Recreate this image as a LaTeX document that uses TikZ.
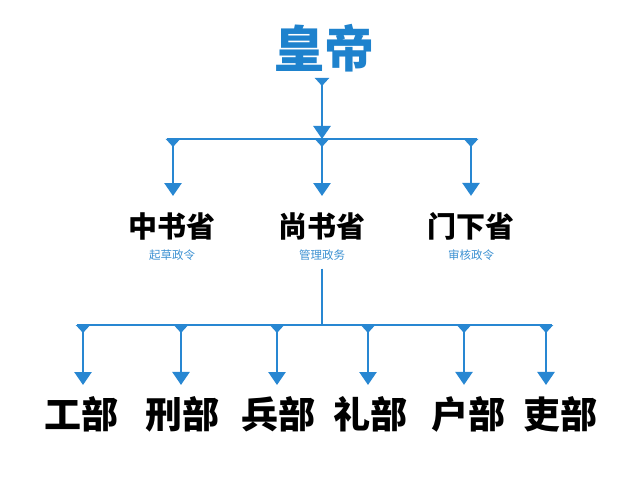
\documentclass[tikz,border=0pt]{standalone}
\usepackage{fontspec}
\newfontfamily\cjk{Noto Sans CJK SC}
\usetikzlibrary{arrows.meta}
\definecolor{lineblue}{RGB}{40,135,210}
\definecolor{titleblue}{RGB}{30,130,205}
\definecolor{subblue}{RGB}{60,145,210}
\begin{document}
\begin{tikzpicture}[x=1pt,y=-1pt,
  conn/.style={draw=lineblue,line width=2.6pt},
  arr/.style={conn,{Triangle[reversed,width=14pt,length=8pt]}-{Triangle[width=17pt,length=13pt]}},
  titletext/.style={font=\cjk\bfseries\fontsize{50}{50}\selectfont,text=titleblue,inner sep=0pt},
  officetext/.style={font=\cjk\bfseries\fontsize{29}{29}\selectfont,text=black,inner sep=0pt},
  subtext/.style={font=\cjk\fontsize{11.5}{11.5}\selectfont,text=subblue,inner sep=0pt},
  depttext/.style={font=\cjk\bfseries\fontsize{37}{37}\selectfont,text=black,inner sep=0pt}]
\fill[white] (0,0) rectangle (640,481);
\useasboundingbox (0,0) rectangle (640,481);

% emperor
\node[titletext] (emp) at (324,48) {皇帝};
\coordinate (e0) at (322,78);
\coordinate (j1) at (322,139);
\coordinate (l1) at (167,139);
\coordinate (r1) at (477,139);
\draw[conn] (l1) -- (r1);
\draw[arr] (e0) -- (j1);

% three departments
\node[officetext] (m1) at (172,226) {中书省};
\node[officetext] (m2) at (322,226) {尚书省};
\node[officetext] (m3) at (471,226) {门下省};
\node[subtext] (s1) at (172,255) {起草政令};
\node[subtext] (s2) at (322,255) {管理政务};
\node[subtext] (s3) at (471,255) {审核政令};

\coordinate (a1) at (173,139);
\coordinate (a2) at (322,139);
\coordinate (a3) at (471,139);
\foreach \a/\m in {a1/m1,a2/m2,a3/m3}
  \draw[arr,shorten >=16pt] (\a) -- (\a |- \m.north);

% six ministries
\coordinate (j2) at (322,325);
\coordinate (l2) at (77,325);
\coordinate (r2) at (552,325);
\draw[conn,shorten <=8pt] (s2.south) -- (j2);
\draw[conn] (l2) -- (r2);

\node[depttext] (d1) at (81,414) {工部};
\node[depttext] (d2) at (182,414) {刑部};
\node[depttext] (d3) at (278,414) {兵部};
\node[depttext] (d4) at (370,414) {礼部};
\node[depttext] (d5) at (468,414) {户部};
\node[depttext] (d6) at (560,414) {吏部};

\coordinate (b1) at (83,325);
\coordinate (b2) at (181,325);
\coordinate (b3) at (277,325);
\coordinate (b4) at (368,325);
\coordinate (b5) at (464,325);
\coordinate (b6) at (546,325);
\foreach \b/\d in {b1/d1,b2/d2,b3/d3,b4/d4,b5/d5,b6/d6}
  \draw[arr,shorten >=11pt] (\b) -- (\b |- \d.north);
\end{tikzpicture}
\end{document}
